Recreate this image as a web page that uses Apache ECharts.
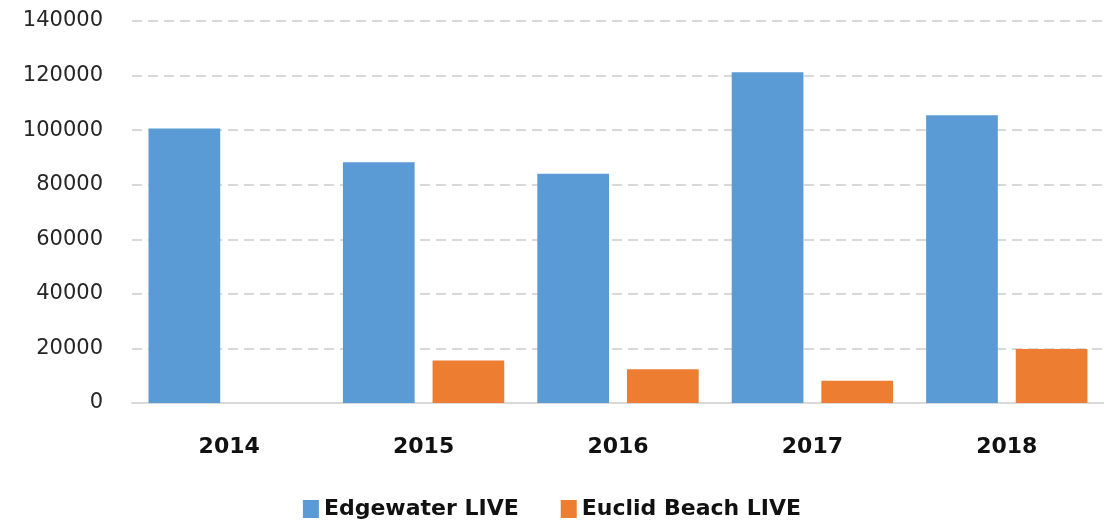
<!DOCTYPE html>
<html>
<head>
<meta charset="utf-8">
<script src="https://cdn.jsdelivr.net/npm/echarts@6/dist/echarts.min.js"></script>
<style>
  html, body { margin: 0; padding: 0; background: #fff; }
  #main { width: 1104px; height: 529px; }
</style>
</head>
<body>
<div id="main"></div>
<script>
// data
var years = ['2014', '2015', '2016', '2017', '2018'];
var edgewater = [100600, 88200, 84000, 121200, 105500];
var euclid = [0, 15600, 12400, 8200, 19800];
var seriesNames = ['Edgewater LIVE', 'Euclid Beach LIVE'];

var myChart = echarts.init(document.getElementById('main'));

var option = {
    animation: false,
    legend: {
        data: seriesNames,
        bottom: 4,
        left: 'center',
        icon: 'rect',
        itemWidth: 16,
        itemHeight: 18,
        itemGap: 42,
        textStyle: {
            fontFamily: 'DejaVu Sans',
            fontWeight: 'bold',
            fontSize: 22,
            color: '#111'
        }
    },
    grid: {
        left: 132,
        top: 21,
        width: 979,
        bottom: 126,
        containLabel: false
    },
    xAxis: {
        type: 'category',
        data: years,
        axisTick: { show: false },
        axisLine: { lineStyle: { color: '#d9d9d9', width: 2 } },
        axisLabel: {
            margin: 33,
            fontFamily: 'DejaVu Sans',
            fontWeight: 'bold',
            fontSize: 22,
            color: '#111'
        }
    },
    yAxis: {
        type: 'value',
        min: 0,
        max: 140000,
        interval: 20000,
        axisLine: { show: false },
        axisTick: { show: false },
        axisLabel: {
            margin: 29,
            fontFamily: 'DejaVu Sans',
            fontSize: 21,
            color: '#262626',
            formatter: function (v) { return String(v); }
        },
        splitLine: {
            lineStyle: { color: '#d9d9d9', width: 2, type: [10, 6] }
        }
    },
    series: [
        {
            name: seriesNames[0],
            type: 'bar',
            data: edgewater,
            barGap: '25%',
            barCategoryGap: '17%',
            itemStyle: { color: '#5b9bd5' }
        },
        {
            name: seriesNames[1],
            type: 'bar',
            data: euclid,
            itemStyle: { color: '#ed7d31' }
        }
    ]
};

myChart.setOption(option);
</script>
</body>
</html>
